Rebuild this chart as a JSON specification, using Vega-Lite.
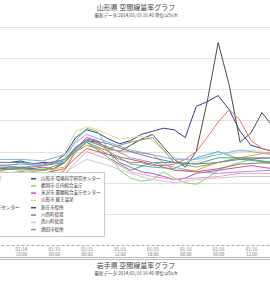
{
"$schema": "https://vega.github.io/schema/vega-lite/v6.json",
"padding": {"left": -80, "top": 3, "right": 0, "bottom": 0},
"background": "white",
"config": {"font": "Noto Sans CJK JP", "view": {"stroke": null}, "concat": {"spacing": 0}},
"datasets": {
"sites": [
{"s":"a","name":"山形市 環境科学研究センター"},{"s":"b","name":"新庄市役所"},{"s":"c","name":"村山市 村山総合支庁"},{"s":"d","name":"鶴岡市 庄内総合支庁"},
{"s":"e","name":"山形市 蔵王温泉"},{"s":"f","name":"米沢市 置賜総合支庁センター"},{"s":"g","name":"天童市 天童市役所"},{"s":"h","name":"寒河江市役所"},
{"s":"i","name":"上山市役所"},{"s":"j","name":"最上町 最上総合支庁センター"},{"s":"k","name":"長井市役所"},{"s":"l","name":"南陽市役所"},
{"s":"m","name":"白鷹町役場"},{"s":"n","name":"川西町役場"},{"s":"o","name":"西川町役場"},{"s":"p","name":"酒田市役所"}
],
"pts": [
{"s":"a","t":"2014-01-14T14:00","v":0.053},{"s":"a","t":"2014-01-14T16:00","v":0.053},{"s":"a","t":"2014-01-14T18:00","v":0.054},{"s":"a","t":"2014-01-14T20:00","v":0.052},{"s":"a","t":"2014-01-14T22:00","v":0.053},{"s":"a","t":"2014-01-15T00:00","v":0.053},{"s":"a","t":"2014-01-15T02:00","v":0.058},{"s":"a","t":"2014-01-15T04:00","v":0.069},{"s":"a","t":"2014-01-15T06:00","v":0.074},{"s":"a","t":"2014-01-15T08:00","v":0.072},{"s":"a","t":"2014-01-15T10:00","v":0.068},{"s":"a","t":"2014-01-15T12:00","v":0.065},{"s":"a","t":"2014-01-15T14:00","v":0.067},{"s":"a","t":"2014-01-15T16:00","v":0.071},{"s":"a","t":"2014-01-15T18:00","v":0.073},{"s":"a","t":"2014-01-15T20:00","v":0.075},{"s":"a","t":"2014-01-15T22:00","v":0.074},{"s":"a","t":"2014-01-16T00:00","v":0.069},{"s":"a","t":"2014-01-16T02:00","v":0.089},{"s":"a","t":"2014-01-16T04:00","v":0.092},{"s":"a","t":"2014-01-16T06:00","v":0.096},{"s":"a","t":"2014-01-16T08:00","v":0.087},{"s":"a","t":"2014-01-16T10:00","v":0.073},{"s":"a","t":"2014-01-16T12:00","v":0.064},{"s":"a","t":"2014-01-16T14:00","v":0.062},{"s":"a","t":"2014-01-16T16:00","v":0.060},
{"s":"b","t":"2014-01-14T14:00","v":0.049},{"s":"b","t":"2014-01-14T16:00","v":0.049},{"s":"b","t":"2014-01-14T18:00","v":0.050},{"s":"b","t":"2014-01-14T20:00","v":0.049},{"s":"b","t":"2014-01-14T22:00","v":0.048},{"s":"b","t":"2014-01-15T00:00","v":0.049},{"s":"b","t":"2014-01-15T02:00","v":0.053},{"s":"b","t":"2014-01-15T04:00","v":0.063},{"s":"b","t":"2014-01-15T06:00","v":0.067},{"s":"b","t":"2014-01-15T08:00","v":0.066},{"s":"b","t":"2014-01-15T10:00","v":0.062},{"s":"b","t":"2014-01-15T12:00","v":0.060},{"s":"b","t":"2014-01-15T14:00","v":0.064},{"s":"b","t":"2014-01-15T16:00","v":0.068},{"s":"b","t":"2014-01-15T18:00","v":0.071},{"s":"b","t":"2014-01-15T20:00","v":0.063},{"s":"b","t":"2014-01-15T22:00","v":0.055},{"s":"b","t":"2014-01-16T00:00","v":0.050},{"s":"b","t":"2014-01-16T02:00","v":0.060},{"s":"b","t":"2014-01-16T04:00","v":0.092},{"s":"b","t":"2014-01-16T06:00","v":0.130},{"s":"b","t":"2014-01-16T08:00","v":0.103},{"s":"b","t":"2014-01-16T10:00","v":0.066},{"s":"b","t":"2014-01-16T12:00","v":0.072},{"s":"b","t":"2014-01-16T14:00","v":0.085},{"s":"b","t":"2014-01-16T16:00","v":0.076},
{"s":"c","t":"2014-01-14T14:00","v":0.045},{"s":"c","t":"2014-01-14T16:00","v":0.046},{"s":"c","t":"2014-01-14T18:00","v":0.044},{"s":"c","t":"2014-01-14T20:00","v":0.045},{"s":"c","t":"2014-01-14T22:00","v":0.046},{"s":"c","t":"2014-01-15T00:00","v":0.044},{"s":"c","t":"2014-01-15T02:00","v":0.048},{"s":"c","t":"2014-01-15T04:00","v":0.060},{"s":"c","t":"2014-01-15T06:00","v":0.064},{"s":"c","t":"2014-01-15T08:00","v":0.062},{"s":"c","t":"2014-01-15T10:00","v":0.058},{"s":"c","t":"2014-01-15T12:00","v":0.055},{"s":"c","t":"2014-01-15T14:00","v":0.053},{"s":"c","t":"2014-01-15T16:00","v":0.053},{"s":"c","t":"2014-01-15T18:00","v":0.051},{"s":"c","t":"2014-01-15T20:00","v":0.051},{"s":"c","t":"2014-01-15T22:00","v":0.052},{"s":"c","t":"2014-01-16T00:00","v":0.055},{"s":"c","t":"2014-01-16T02:00","v":0.060},{"s":"c","t":"2014-01-16T04:00","v":0.069},{"s":"c","t":"2014-01-16T06:00","v":0.079},{"s":"c","t":"2014-01-16T08:00","v":0.087},{"s":"c","t":"2014-01-16T10:00","v":0.080},{"s":"c","t":"2014-01-16T12:00","v":0.067},{"s":"c","t":"2014-01-16T14:00","v":0.062},{"s":"c","t":"2014-01-16T16:00","v":0.060},
{"s":"d","t":"2014-01-14T14:00","v":0.048},{"s":"d","t":"2014-01-14T16:00","v":0.049},{"s":"d","t":"2014-01-14T18:00","v":0.048},{"s":"d","t":"2014-01-14T20:00","v":0.048},{"s":"d","t":"2014-01-14T22:00","v":0.049},{"s":"d","t":"2014-01-15T00:00","v":0.048},{"s":"d","t":"2014-01-15T02:00","v":0.056},{"s":"d","t":"2014-01-15T04:00","v":0.067},{"s":"d","t":"2014-01-15T06:00","v":0.075},{"s":"d","t":"2014-01-15T08:00","v":0.073},{"s":"d","t":"2014-01-15T10:00","v":0.061},{"s":"d","t":"2014-01-15T12:00","v":0.048},{"s":"d","t":"2014-01-15T14:00","v":0.043},{"s":"d","t":"2014-01-15T16:00","v":0.041},{"s":"d","t":"2014-01-15T18:00","v":0.042},{"s":"d","t":"2014-01-15T20:00","v":0.047},{"s":"d","t":"2014-01-15T22:00","v":0.043},{"s":"d","t":"2014-01-16T00:00","v":0.040},{"s":"d","t":"2014-01-16T02:00","v":0.039},{"s":"d","t":"2014-01-16T04:00","v":0.043},{"s":"d","t":"2014-01-16T06:00","v":0.048},{"s":"d","t":"2014-01-16T08:00","v":0.051},{"s":"d","t":"2014-01-16T10:00","v":0.053},{"s":"d","t":"2014-01-16T12:00","v":0.055},{"s":"d","t":"2014-01-16T14:00","v":0.053},{"s":"d","t":"2014-01-16T16:00","v":0.052},
{"s":"e","t":"2014-01-14T14:00","v":0.052},{"s":"e","t":"2014-01-14T16:00","v":0.051},{"s":"e","t":"2014-01-14T18:00","v":0.053},{"s":"e","t":"2014-01-14T20:00","v":0.052},{"s":"e","t":"2014-01-14T22:00","v":0.051},{"s":"e","t":"2014-01-15T00:00","v":0.052},{"s":"e","t":"2014-01-15T02:00","v":0.060},{"s":"e","t":"2014-01-15T04:00","v":0.073},{"s":"e","t":"2014-01-15T06:00","v":0.076},{"s":"e","t":"2014-01-15T08:00","v":0.074},{"s":"e","t":"2014-01-15T10:00","v":0.071},{"s":"e","t":"2014-01-15T12:00","v":0.068},{"s":"e","t":"2014-01-15T14:00","v":0.069},{"s":"e","t":"2014-01-15T16:00","v":0.070},{"s":"e","t":"2014-01-15T18:00","v":0.067},{"s":"e","t":"2014-01-15T20:00","v":0.061},{"s":"e","t":"2014-01-15T22:00","v":0.056},{"s":"e","t":"2014-01-16T00:00","v":0.055},{"s":"e","t":"2014-01-16T02:00","v":0.053},{"s":"e","t":"2014-01-16T04:00","v":0.056},{"s":"e","t":"2014-01-16T06:00","v":0.060},{"s":"e","t":"2014-01-16T08:00","v":0.058},{"s":"e","t":"2014-01-16T10:00","v":0.060},{"s":"e","t":"2014-01-16T12:00","v":0.061},{"s":"e","t":"2014-01-16T14:00","v":0.060},{"s":"e","t":"2014-01-16T16:00","v":0.058},
{"s":"f","t":"2014-01-14T14:00","v":0.049},{"s":"f","t":"2014-01-14T16:00","v":0.050},{"s":"f","t":"2014-01-14T18:00","v":0.049},{"s":"f","t":"2014-01-14T20:00","v":0.049},{"s":"f","t":"2014-01-14T22:00","v":0.050},{"s":"f","t":"2014-01-15T00:00","v":0.049},{"s":"f","t":"2014-01-15T02:00","v":0.053},{"s":"f","t":"2014-01-15T04:00","v":0.062},{"s":"f","t":"2014-01-15T06:00","v":0.069},{"s":"f","t":"2014-01-15T08:00","v":0.067},{"s":"f","t":"2014-01-15T10:00","v":0.060},{"s":"f","t":"2014-01-15T12:00","v":0.053},{"s":"f","t":"2014-01-15T14:00","v":0.050},{"s":"f","t":"2014-01-15T16:00","v":0.047},{"s":"f","t":"2014-01-15T18:00","v":0.046},{"s":"f","t":"2014-01-15T20:00","v":0.044},{"s":"f","t":"2014-01-15T22:00","v":0.042},{"s":"f","t":"2014-01-16T00:00","v":0.043},{"s":"f","t":"2014-01-16T02:00","v":0.046},{"s":"f","t":"2014-01-16T04:00","v":0.047},{"s":"f","t":"2014-01-16T06:00","v":0.048},{"s":"f","t":"2014-01-16T08:00","v":0.049},{"s":"f","t":"2014-01-16T10:00","v":0.050},{"s":"f","t":"2014-01-16T12:00","v":0.051},{"s":"f","t":"2014-01-16T14:00","v":0.050},{"s":"f","t":"2014-01-16T16:00","v":0.049},
{"s":"g","t":"2014-01-14T14:00","v":0.051},{"s":"g","t":"2014-01-14T18:00","v":0.052},{"s":"g","t":"2014-01-14T22:00","v":0.051},{"s":"g","t":"2014-01-15T02:00","v":0.054},{"s":"g","t":"2014-01-15T04:00","v":0.061},{"s":"g","t":"2014-01-15T06:00","v":0.066},{"s":"g","t":"2014-01-15T10:00","v":0.060},{"s":"g","t":"2014-01-15T14:00","v":0.052},{"s":"g","t":"2014-01-15T18:00","v":0.050},{"s":"g","t":"2014-01-15T22:00","v":0.049},{"s":"g","t":"2014-01-16T02:00","v":0.056},{"s":"g","t":"2014-01-16T06:00","v":0.060},{"s":"g","t":"2014-01-16T10:00","v":0.055},{"s":"g","t":"2014-01-16T16:00","v":0.053},
{"s":"h","t":"2014-01-14T14:00","v":0.047},{"s":"h","t":"2014-01-14T18:00","v":0.046},{"s":"h","t":"2014-01-14T22:00","v":0.048},{"s":"h","t":"2014-01-15T02:00","v":0.050},{"s":"h","t":"2014-01-15T04:00","v":0.060},{"s":"h","t":"2014-01-15T06:00","v":0.064},{"s":"h","t":"2014-01-15T10:00","v":0.061},{"s":"h","t":"2014-01-15T14:00","v":0.060},{"s":"h","t":"2014-01-15T18:00","v":0.058},{"s":"h","t":"2014-01-15T22:00","v":0.048},{"s":"h","t":"2014-01-16T02:00","v":0.048},{"s":"h","t":"2014-01-16T06:00","v":0.053},{"s":"h","t":"2014-01-16T10:00","v":0.056},{"s":"h","t":"2014-01-16T16:00","v":0.060},
{"s":"i","t":"2014-01-14T14:00","v":0.044},{"s":"i","t":"2014-01-14T18:00","v":0.044},{"s":"i","t":"2014-01-14T22:00","v":0.043},{"s":"i","t":"2014-01-15T02:00","v":0.046},{"s":"i","t":"2014-01-15T04:00","v":0.053},{"s":"i","t":"2014-01-15T06:00","v":0.060},{"s":"i","t":"2014-01-15T10:00","v":0.055},{"s":"i","t":"2014-01-15T14:00","v":0.047},{"s":"i","t":"2014-01-15T18:00","v":0.044},{"s":"i","t":"2014-01-15T22:00","v":0.042},{"s":"i","t":"2014-01-16T02:00","v":0.043},{"s":"i","t":"2014-01-16T06:00","v":0.044},{"s":"i","t":"2014-01-16T10:00","v":0.046},{"s":"i","t":"2014-01-16T16:00","v":0.046},
{"s":"j","t":"2014-01-14T14:00","v":0.055},{"s":"j","t":"2014-01-14T18:00","v":0.055},{"s":"j","t":"2014-01-14T22:00","v":0.054},{"s":"j","t":"2014-01-15T02:00","v":0.058},{"s":"j","t":"2014-01-15T04:00","v":0.066},{"s":"j","t":"2014-01-15T06:00","v":0.071},{"s":"j","t":"2014-01-15T10:00","v":0.066},{"s":"j","t":"2014-01-15T14:00","v":0.061},{"s":"j","t":"2014-01-15T18:00","v":0.058},{"s":"j","t":"2014-01-15T22:00","v":0.055},{"s":"j","t":"2014-01-16T02:00","v":0.055},{"s":"j","t":"2014-01-16T06:00","v":0.058},{"s":"j","t":"2014-01-16T10:00","v":0.061},{"s":"j","t":"2014-01-16T16:00","v":0.058},
{"s":"k","t":"2014-01-14T14:00","v":0.048},{"s":"k","t":"2014-01-14T18:00","v":0.049},{"s":"k","t":"2014-01-14T22:00","v":0.048},{"s":"k","t":"2014-01-15T02:00","v":0.053},{"s":"k","t":"2014-01-15T04:00","v":0.060},{"s":"k","t":"2014-01-15T06:00","v":0.066},{"s":"k","t":"2014-01-15T10:00","v":0.056},{"s":"k","t":"2014-01-15T14:00","v":0.048},{"s":"k","t":"2014-01-15T18:00","v":0.053},{"s":"k","t":"2014-01-15T22:00","v":0.053},{"s":"k","t":"2014-01-16T02:00","v":0.052},{"s":"k","t":"2014-01-16T06:00","v":0.056},{"s":"k","t":"2014-01-16T10:00","v":0.056},{"s":"k","t":"2014-01-16T16:00","v":0.053},
{"s":"l","t":"2014-01-14T14:00","v":0.051},{"s":"l","t":"2014-01-14T18:00","v":0.050},{"s":"l","t":"2014-01-14T22:00","v":0.051},{"s":"l","t":"2014-01-15T02:00","v":0.055},{"s":"l","t":"2014-01-15T04:00","v":0.063},{"s":"l","t":"2014-01-15T06:00","v":0.067},{"s":"l","t":"2014-01-15T10:00","v":0.063},{"s":"l","t":"2014-01-15T14:00","v":0.056},{"s":"l","t":"2014-01-15T18:00","v":0.053},{"s":"l","t":"2014-01-15T22:00","v":0.050},{"s":"l","t":"2014-01-16T02:00","v":0.047},{"s":"l","t":"2014-01-16T06:00","v":0.046},{"s":"l","t":"2014-01-16T10:00","v":0.047},{"s":"l","t":"2014-01-16T16:00","v":0.048},
{"s":"m","t":"2014-01-14T14:00","v":0.046},{"s":"m","t":"2014-01-14T18:00","v":0.047},{"s":"m","t":"2014-01-14T22:00","v":0.046},{"s":"m","t":"2014-01-15T02:00","v":0.049},{"s":"m","t":"2014-01-15T04:00","v":0.056},{"s":"m","t":"2014-01-15T06:00","v":0.062},{"s":"m","t":"2014-01-15T10:00","v":0.058},{"s":"m","t":"2014-01-15T14:00","v":0.055},{"s":"m","t":"2014-01-15T18:00","v":0.052},{"s":"m","t":"2014-01-15T22:00","v":0.048},{"s":"m","t":"2014-01-16T02:00","v":0.047},{"s":"m","t":"2014-01-16T06:00","v":0.049},{"s":"m","t":"2014-01-16T10:00","v":0.052},{"s":"m","t":"2014-01-16T16:00","v":0.053},
{"s":"n","t":"2014-01-14T14:00","v":0.053},{"s":"n","t":"2014-01-14T18:00","v":0.053},{"s":"n","t":"2014-01-14T22:00","v":0.052},{"s":"n","t":"2014-01-15T02:00","v":0.055},{"s":"n","t":"2014-01-15T04:00","v":0.062},{"s":"n","t":"2014-01-15T06:00","v":0.068},{"s":"n","t":"2014-01-15T10:00","v":0.065},{"s":"n","t":"2014-01-15T14:00","v":0.060},{"s":"n","t":"2014-01-15T18:00","v":0.056},{"s":"n","t":"2014-01-15T22:00","v":0.053},{"s":"n","t":"2014-01-16T02:00","v":0.052},{"s":"n","t":"2014-01-16T06:00","v":0.053},{"s":"n","t":"2014-01-16T10:00","v":0.055},{"s":"n","t":"2014-01-16T16:00","v":0.056},
{"s":"o","t":"2014-01-14T14:00","v":0.043},{"s":"o","t":"2014-01-14T18:00","v":0.044},{"s":"o","t":"2014-01-14T22:00","v":0.042},{"s":"o","t":"2014-01-15T02:00","v":0.046},{"s":"o","t":"2014-01-15T04:00","v":0.051},{"s":"o","t":"2014-01-15T06:00","v":0.055},{"s":"o","t":"2014-01-15T10:00","v":0.051},{"s":"o","t":"2014-01-15T14:00","v":0.046},{"s":"o","t":"2014-01-15T18:00","v":0.042},{"s":"o","t":"2014-01-15T22:00","v":0.040},{"s":"o","t":"2014-01-16T02:00","v":0.042},{"s":"o","t":"2014-01-16T06:00","v":0.043},{"s":"o","t":"2014-01-16T10:00","v":0.044},{"s":"o","t":"2014-01-16T16:00","v":0.044},
{"s":"p","t":"2014-01-14T14:00","v":0.050},{"s":"p","t":"2014-01-14T18:00","v":0.049},{"s":"p","t":"2014-01-14T22:00","v":0.051},{"s":"p","t":"2014-01-15T02:00","v":0.053},{"s":"p","t":"2014-01-15T04:00","v":0.062},{"s":"p","t":"2014-01-15T06:00","v":0.067},{"s":"p","t":"2014-01-15T10:00","v":0.062},{"s":"p","t":"2014-01-15T14:00","v":0.066},{"s":"p","t":"2014-01-15T18:00","v":0.069},{"s":"p","t":"2014-01-15T22:00","v":0.053},{"s":"p","t":"2014-01-16T02:00","v":0.050},{"s":"p","t":"2014-01-16T06:00","v":0.053},{"s":"p","t":"2014-01-16T10:00","v":0.056},{"s":"p","t":"2014-01-16T16:00","v":0.056}
]
},
"vconcat": [
{
"width": 350, "height": 218,
"title": {"text": "山形県 空間線量率グラフ", "subtitle": "最新データ:2014/01/16 16:40 単位:μSv/h", "fontSize": 7, "fontWeight": "normal", "subtitleFontSize": 4.5, "color": "#444", "subtitleColor": "#444", "dx": 40, "offset": 10, "subtitlePadding": 2},
"data": {"name": "pts"},
"transform": [{"lookup": "s", "from": {"data": {"name": "sites"}, "key": "s", "fields": ["name"]}}],
"mark": {"type": "line", "strokeWidth": 1, "clip": true},
"encoding": {
"x": {"field": "t", "type": "temporal",
"scale": {"domain": [{"year": 2014, "month": 1, "date": 13, "hours": 23, "minutes": 45}, {"year": 2014, "month": 1, "date": 16, "hours": 15, "minutes": 39}]},
"axis": {"title": null, "grid": false, "ticks": false, "domainColor": "#aaa", "domainDash": [3, 2], "labelFontSize": 4.5, "labelColor": "#777", "labelPadding": 1, "labelLineHeight": 5,
"values": [{"year": 2014, "month": 1, "date": 14, "hours": 18}, {"year": 2014, "month": 1, "date": 15, "hours": 0}, {"year": 2014, "month": 1, "date": 15, "hours": 6}, {"year": 2014, "month": 1, "date": 15, "hours": 12}, {"year": 2014, "month": 1, "date": 15, "hours": 18}, {"year": 2014, "month": 1, "date": 16, "hours": 0}, {"year": 2014, "month": 1, "date": 16, "hours": 6}, {"year": 2014, "month": 1, "date": 16, "hours": 12}],
"labelExpr": "[timeFormat(datum.value, '%m/%d'), timeFormat(datum.value, '%H:%M')]"}},
"y": {"field": "v", "type": "quantitative", "scale": {"domain": [0, 0.14]},
"axis": {"title": null, "labels": false, "ticks": false, "domain": false, "grid": true, "gridColor": "#e2e2e2", "values": [0.02, 0.04, 0.06, 0.08, 0.1, 0.12, 0.14]}},
"color": {"field": "name", "type": "nominal",
"scale": {"domain": ["村山市 村山総合支庁", "天童市 天童市役所", "寒河江市役所", "上山市役所", "最上町 最上総合支庁センター", "長井市役所", "南陽市役所", "白鷹町役場", "山形市 環境科学研究センター", "鶴岡市 庄内総合支庁", "米沢市 置賜総合支庁センター", "山形市 蔵王温泉", "新庄市役所", "川西町役場", "西川町役場", "酒田市役所"],
"range": ["#e8735f", "#3cbad0", "#f0a040", "#f2a0c0", "#8aa8ee", "#44a888", "#a88fe0", "#a87452", "#2f3c9a", "#8ccf6a", "#c64bc6", "#d8e28e", "#4b4b42", "#6f7fa8", "#c9c9d9", "#8a9a62"]},
"legend": {"orient": "none", "legendX": 25, "legendY": 145, "columns": 2, "title": null, "symbolType": "stroke", "symbolSize": 25, "symbolStrokeWidth": 1.5, "labelFontSize": 4.5, "labelColor": "#333", "rowPadding": 0.3, "columnPadding": 8, "padding": 3, "strokeColor": "#ccc", "fillColor": "#fff", "labelLimit": 200}}
}
},
{
"width": 350, "height": 2,
"data": {"values": [{}]},
"mark": {"type": "rule", "opacity": 0},
"encoding": {},
"view": {"stroke": "#bbb", "strokeWidth": 1},
"title": {"text": "岩手県 空間線量率グラフ", "subtitle": "最新データ:2014/01/16 16:40 単位:μSv/h", "orient": "bottom", "fontSize": 7, "fontWeight": "normal", "subtitleFontSize": 4.5, "color": "#444", "subtitleColor": "#444", "dx": 40, "offset": 3, "subtitlePadding": 2}
}
]
}
